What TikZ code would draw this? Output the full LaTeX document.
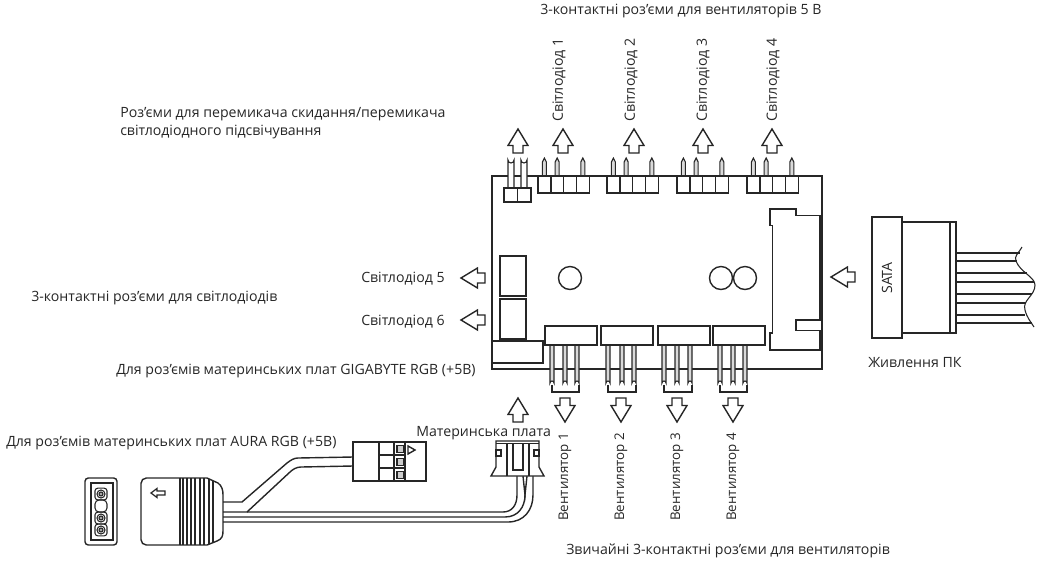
\documentclass[tikz,border=0pt]{standalone}
\usepackage{fontspec}
\setmainfont{Open Sans}
\newcommand{\lblsize}{\fontsize{10.6pt}{12pt}\selectfont}
\tikzset{
  line/.style={draw=black!85,line width=1.05pt,line join=miter},
  thin line/.style={draw=black!85,line width=.8pt},
  lbl/.style={inner sep=0pt,anchor=west,yshift=-1.5pt,font=\lblsize,text=black!85},
  vlbl/.style={inner sep=0pt,anchor=west,rotate=90,font=\lblsize,text=black!85},
  fanlbl/.style={vlbl,font=\fontsize{10pt}{12pt}\selectfont},
  pics/fatarrow/.style={code={
    \draw[line,fill=white] (0,0) -- (-10,16.5) -- (-5,16.5) -- (-5,24) -- (5,24) -- (5,16.5) -- (10,16.5) -- cycle;
  }},
  pics/toppin/.style={code={
    \draw[thin line,fill=black!15] (-2,18) -- (-2,4) -- (0,0) -- (2,4) -- (2,18);
  }},
  pics/fanpin/.style={code={
    \draw[thin line,fill=black!15] (-2,0) -- (-2,38) arc[start angle=180,end angle=360,radius=2] -- (2,0);
  }},
  pics/roundpin/.style={code={
    \draw[thin line,fill=white] (-3,31) -- (-3,3) arc[start angle=180,end angle=0,radius=3] -- (3,31);
  }}
}
\begin{document}
\begin{tikzpicture}[x=0.75pt,y=-0.75pt]
\useasboundingbox (0,0) rectangle (1043,562);
% board
\draw[line] (492,176) rectangle (822,369);
% 2-pin header
\foreach \x in {511,524} \pic at (\x,157) {roundpin};
\foreach \x in {504,517.5} \draw[line,fill=white] (\x,188) rectangle (\x+13.5,202);
% 4-box headers
\foreach \s in {538,607,677,747}{
  \foreach \i in {0,1,3} \pic at (\s+6.4+\i*12.8,158) {toppin};
  \foreach \i in {0,1,2,3} \draw[line,fill=white] (\s+\i*12.8,176) rectangle (\s+\i*12.8+12.8,193);
}
% upward arrows
\foreach \x in {518,563,634,703,772} \pic at (\x,129) {fatarrow};
% left blocks
\draw[line] (500,256) rectangle (526,296);
\draw[line] (500,299) rectangle (526,339);
\draw[line,fill=white] (492,341) rectangle (543,363);
% circles
\foreach \x in {570,721,745} \draw[line] (\x,278) circle[radius=11.5];
% fan headers
\foreach \s/\a/\b/\c in {545/552/565/577,601/608/622/634,658/664/677/690,713/720/733/745}{
  \draw[line] (\a,385) -- (\a,392) -- (\c+2,392) -- (\c+2,385);
  \foreach \p in {\a,\b,\c} \pic at (\p,345) {fanpin};
  \draw[line,fill=white] (\s,326) rectangle (\s+52,345);
}
\foreach \x in {565,621,677,733} \pic[rotate=180] at (\x,422) {fatarrow};
\pic at (518,398) {fatarrow};
% SATA socket
\draw[line] (770,209) -- (796,209) -- (796,215.7) -- (820,215.7) -- (820,320) -- (796,320) -- (796,330.3) -- (820,330.3) -- (820,350) -- (770,350) -- (770,333) -- (772.7,333) -- (772.7,225.7) -- (770,225.7) -- cycle;
\draw[line width=2pt,draw=black!85] (820,215.7) -- (820,320);
% left and right arrows
\pic[rotate=90] at (461,278) {fatarrow};
\pic[rotate=90] at (461,320) {fatarrow};
\pic[rotate=90] at (831,277) {fatarrow};
% SATA plug
\draw[line] (902,222) rectangle (956,333);
\draw[line] (950,222) -- (950,333);
\draw[line] (872,217) rectangle (902,338);
\foreach \y/\xe in {253/1020,261/1017,273/1027,282/1034,294/1032,303/1026,315/1025,323/1032}
  \draw[line] (956,\y) -- (\xe,\y);
\draw[thin line] (1022,247) .. controls (1018,254) and (1014,256) .. (1016,261) .. controls (1020,272) and (1035,277) .. (1035,285) .. controls (1035,296) and (1022,300) .. (1025,310) .. controls (1027,318) and (1031,322) .. (1034,327);
% bottom-left socket
\draw[line,rounded corners=2.5pt] (85,478) rectangle (117,545);
\draw[line] (91,483) rectangle (113,540);
\foreach \y in {494,518,530}{
  \draw[thin line,rounded corners=2pt] (95,\y-5.8) rectangle (107,\y+5.8);
  \draw[thin line] (101,\y) circle[radius=4];
  \draw[thin line,fill=black!35] (101,\y) circle[radius=2];
}
\draw[thin line,rounded corners=3pt] (95,500) rectangle (107,512);
% plug with ribs
\draw[line,rounded corners=4pt] (180,478) -- (141,478) -- (141,545) -- (180,545);
\draw[line] (180,478) -- (207,478) -- (218,483) .. controls (222,486) and (223,490) .. (223,495) -- (223,531) .. controls (223,536) and (222,539) .. (217,541) -- (207,545) -- (180,545);
\foreach \x/\a/\b in {180/478/545,183/478/545,187/478/545,191/478/545,195/478/545,200/478/545,204/478/545,209/479/544,213/481/543}
  \draw[thin line] (\x,\a) -- (\x,\b);
\draw[line,line width=.95pt] (151,493) -- (157,488.5) -- (157,491) -- (165,491) -- (165,495) -- (157,495) -- (157,497.5) -- cycle;
% cables
\draw[line] (223,502) -- (242,502) -- (287,463) .. controls (291,460) and (294,458) .. (298,458) -- (353,457);
\draw[line] (247,512) -- (290,472) .. controls (293,469) and (297,467) .. (301,467) -- (353,466);
\draw[line] (223,512) -- (503,512) .. controls (512,512) and (517,505) .. (517,495) -- (517,476);
\draw[line] (223,517) -- (505,517) .. controls (518,517) and (525,507) .. (525,495);
\draw[line] (523,476) -- (525,495) -- (527,476);
\draw[line] (223,522) -- (508,522) .. controls (524,522) and (533,510) .. (533,495) -- (533,476);
% 3-way connector
\draw[line,fill=white] (353,442) rectangle (426,481);
\draw[line,line width=1.4pt] (379,442) -- (379,481);
\draw[line] (405,442) -- (405,481);
\draw[line] (394,442) -- (394,481);
\draw[line] (379,455) -- (405,455);
\draw[line] (379,468) -- (405,468);
\foreach \y in {445.5,458.5,471.5} \draw[thin line,fill=black!20] (397,\y) rectangle (404,\y+7);
\draw[line] (408,446) -- (415,450) -- (408,454) -- cycle;
% motherboard connector
\draw[line,fill=white] (496,441) -- (539,441) -- (539,467) -- (544,476) -- (491,476) -- (496,467) -- cycle;
\draw[thin line] (496,443.5) -- (539,443.5);
\draw[line] (507,443.5) -- (507,476);
\draw[line] (529,443.5) -- (529,476);
\draw[line] (513,443.5) -- (513,470) -- (523,470) -- (523,443.5);
\draw[thin line] (496,450) rectangle (501,456);
\draw[thin line] (534,450) rectangle (539,456);
% labels
\node[lbl] (t1) at (540,9) {3-контактні роз’єми для вентиляторів 5 В};
\node[vlbl] (s1) at (559,122) {Світлодіод 1};
\node[vlbl] (s2) at (631,122) {Світлодіод 2};
\node[vlbl] (s3) at (703,122) {Світлодіод 3};
\node[vlbl] (s4) at (773,122) {Світлодіод 4};
\node[lbl] (t2) at (120,112) {Роз’єми для перемикача скидання/перемикача};
\node[lbl] (t3) at (120,130) {світлодіодного підсвічування};
\node[lbl] (s5) at (361,277) {Світлодіод 5};
\node[lbl] (s6) at (361,320) {Світлодіод 6};
\node[lbl] (t4) at (31,296) {3-контактні роз’єми для світлодіодів};
\node[lbl] (t5) at (116,369) {Для роз’ємів материнських плат GIGABYTE RGB (+5B)};
\node[lbl] (t6) at (6,441) {Для роз’ємів материнських плат AURA RGB (+5B)};
\node[lbl] (t7) at (416,431) {Материнська плата};
\node[fanlbl] (f1) at (565,521) {Вентилятор 1};
\node[fanlbl] (f2) at (621,521) {Вентилятор 2};
\node[fanlbl] (f3) at (677,521) {Вентилятор 3};
\node[fanlbl] (f4) at (733,521) {Вентилятор 4};
\node[lbl] (t8) at (566,549) {Звичайні 3-контактні роз’єми для вентиляторів};
\node[lbl] (t9) at (868,361) {Живлення ПК};
\node[inner sep=0pt,rotate=90,font=\lblsize,text=black!85] (sata) at (887,278) {SATA};
\end{tikzpicture}
\end{document}
